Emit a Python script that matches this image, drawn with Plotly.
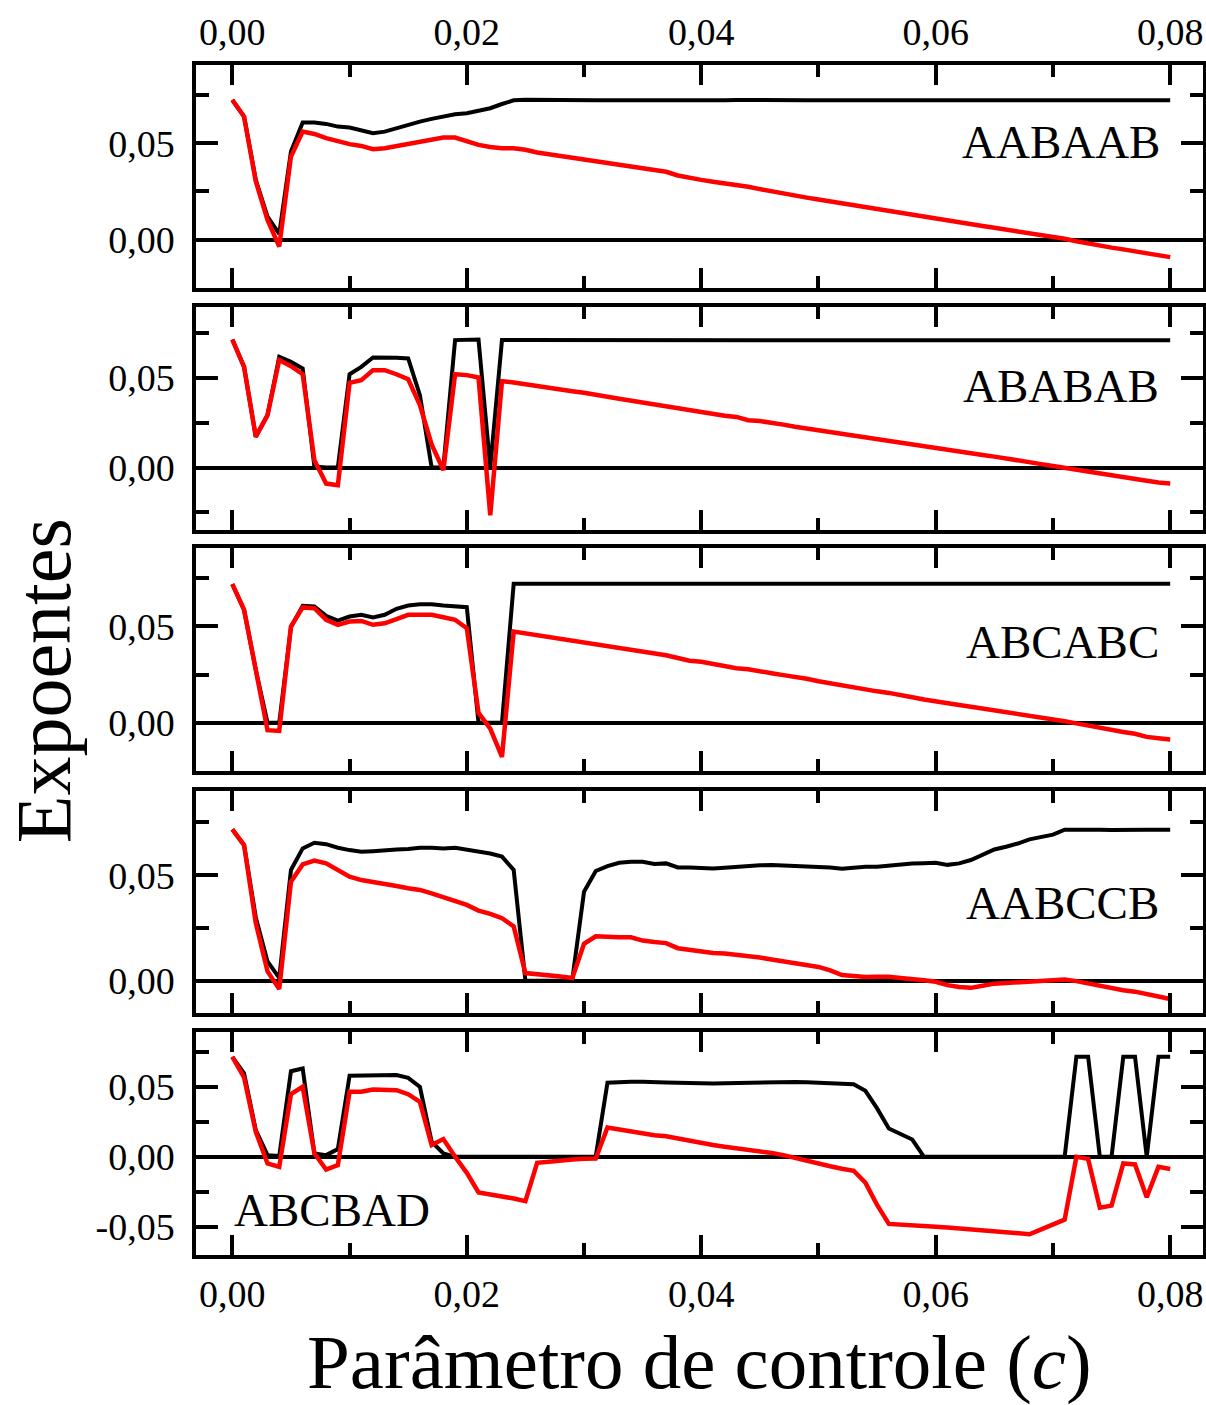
import plotly.graph_objects as go

# ---------------- data ----------------
C = [round(0.001 * i, 3) for i in range(81)]

labels = ["AABAAB", "ABABAB", "ABCABC", "AABCCB", "ABCBAD"]

aabaab_black = [
    0.0724, 0.0638, 0.0310, 0.0120, 0.0030, 0.0457, 0.0607, 0.0607, 0.0600, 0.0586,
    0.0581, 0.0569, 0.0552, 0.0560, 0.0578, 0.0595, 0.0612, 0.0626, 0.0638, 0.0650,
    0.0655, 0.0667, 0.0681, 0.0703, 0.0722, 0.0725, 0.0724, 0.0723, 0.0723, 0.0724,
    0.0723, 0.0722, 0.0723, 0.0722, 0.0723, 0.0722, 0.0721, 0.0722, 0.0723, 0.0722,
    0.0721, 0.0722, 0.0723, 0.0724, 0.0723, 0.0722, 0.0721, 0.0722, 0.0723, 0.0722,
    0.0723, 0.0722, 0.0721, 0.0722, 0.0722, 0.0721, 0.0722, 0.0723, 0.0722, 0.0722,
    0.0722, 0.0721, 0.0722, 0.0722, 0.0722, 0.0723, 0.0722, 0.0722, 0.0721, 0.0722,
    0.0722, 0.0722, 0.0722, 0.0722, 0.0722, 0.0721, 0.0722, 0.0722, 0.0722, 0.0722,
    0.0722,
]
aabaab_red = [
    0.0724, 0.0638, 0.0302, 0.0103, -0.0035, 0.0431, 0.0560, 0.0548, 0.0526, 0.0509,
    0.0495, 0.0486, 0.0469, 0.0474, 0.0486, 0.0497, 0.0509, 0.0517, 0.0529, 0.0529,
    0.0509, 0.0491, 0.0480, 0.0474, 0.0474, 0.0466, 0.0452, 0.0443, 0.0434, 0.0428,
    0.0417, 0.0407, 0.0402, 0.0391, 0.0384, 0.0374, 0.0365, 0.0352, 0.0333, 0.0320,
    0.0310, 0.0300, 0.0293, 0.0285, 0.0274, 0.0262, 0.0250, 0.0238, 0.0228, 0.0218,
    0.0208, 0.0198, 0.0189, 0.0179, 0.0168, 0.0158, 0.0147, 0.0139, 0.0128, 0.0116,
    0.0108, 0.0099, 0.0089, 0.0080, 0.0071, 0.0062, 0.0053, 0.0043, 0.0036, 0.0025,
    0.0015, 0.0005, -0.0008, -0.0020, -0.0030, -0.0041, -0.0050, -0.0060, -0.0069, -0.0079,
    -0.0090,
]

ababab_black = [
    0.0716, 0.0563, 0.0172, 0.0293, 0.0619, 0.0591, 0.0554, 0.0005, 0.0000, 0.0000,
    0.0522, 0.0563, 0.0616, 0.0616, 0.0614, 0.0610, 0.0405, 0.0000, 0.0000, 0.0713,
    0.0716, 0.0716, 0.0000, 0.0713, 0.0713, 0.0713, 0.0713, 0.0714, 0.0713, 0.0713,
    0.0714, 0.0713, 0.0712, 0.0713, 0.0713, 0.0712, 0.0713, 0.0713, 0.0712, 0.0711,
    0.0712, 0.0713, 0.0712, 0.0711, 0.0712, 0.0713, 0.0712, 0.0712, 0.0713, 0.0712,
    0.0712, 0.0712, 0.0712, 0.0712, 0.0712, 0.0713, 0.0714, 0.0713, 0.0712, 0.0712,
    0.0712, 0.0712, 0.0712, 0.0712, 0.0712, 0.0712, 0.0712, 0.0712, 0.0712, 0.0712,
    0.0712, 0.0712, 0.0712, 0.0712, 0.0712, 0.0712, 0.0712, 0.0712, 0.0711, 0.0711,
    0.0712,
]
ababab_red = [
    0.0716, 0.0563, 0.0172, 0.0293, 0.0601, 0.0567, 0.0522, 0.0041, -0.0090, -0.0099,
    0.0474, 0.0489, 0.0545, 0.0545, 0.0522, 0.0494, 0.0349, 0.0129, -0.0015, 0.0522,
    0.0517, 0.0504, -0.0267, 0.0483, 0.0476, 0.0465, 0.0455, 0.0446, 0.0436, 0.0427,
    0.0418, 0.0404, 0.0396, 0.0385, 0.0374, 0.0366, 0.0352, 0.0340, 0.0330, 0.0320,
    0.0306, 0.0298, 0.0290, 0.0283, 0.0265, 0.0260, 0.0252, 0.0240, 0.0228, 0.0218,
    0.0206, 0.0197, 0.0186, 0.0175, 0.0166, 0.0156, 0.0148, 0.0137, 0.0126, 0.0116,
    0.0105, 0.0094, 0.0087, 0.0079, 0.0070, 0.0061, 0.0052, 0.0040, 0.0030, 0.0019,
    0.0008, -0.0003, -0.0012, -0.0023, -0.0033, -0.0043, -0.0053, -0.0064, -0.0074, -0.0084,
    -0.0089,
]

abcabc_black = [
    0.0719, 0.0586, 0.0274, 0.0000, 0.0000, 0.0496, 0.0606, 0.0603, 0.0554, 0.0530,
    0.0551, 0.0560, 0.0546, 0.0560, 0.0591, 0.0608, 0.0615, 0.0615, 0.0608, 0.0603,
    0.0599, 0.0000, 0.0000, 0.0000, 0.0721, 0.0721, 0.0721, 0.0720, 0.0720, 0.0721,
    0.0721, 0.0720, 0.0721, 0.0722, 0.0721, 0.0720, 0.0721, 0.0721, 0.0721, 0.0721,
    0.0721, 0.0721, 0.0721, 0.0720, 0.0721, 0.0721, 0.0721, 0.0721, 0.0721, 0.0721,
    0.0721, 0.0721, 0.0721, 0.0721, 0.0721, 0.0721, 0.0721, 0.0721, 0.0721, 0.0722,
    0.0720, 0.0721, 0.0721, 0.0721, 0.0721, 0.0721, 0.0721, 0.0721, 0.0721, 0.0721,
    0.0721, 0.0721, 0.0721, 0.0721, 0.0721, 0.0721, 0.0721, 0.0720, 0.0720, 0.0721,
    0.0721,
]
abcabc_red = [
    0.0719, 0.0586, 0.0274, -0.0038, -0.0042, 0.0499, 0.0598, 0.0594, 0.0534, 0.0508,
    0.0525, 0.0528, 0.0508, 0.0516, 0.0537, 0.0560, 0.0560, 0.0560, 0.0547, 0.0534,
    0.0490, 0.0052, -0.0030, -0.0177, 0.0473, 0.0464, 0.0452, 0.0444, 0.0435, 0.0426,
    0.0414, 0.0408, 0.0398, 0.0390, 0.0378, 0.0372, 0.0360, 0.0350, 0.0336, 0.0322,
    0.0316, 0.0305, 0.0294, 0.0283, 0.0278, 0.0270, 0.0257, 0.0247, 0.0240, 0.0228,
    0.0215, 0.0204, 0.0195, 0.0183, 0.0173, 0.0163, 0.0155, 0.0146, 0.0132, 0.0121,
    0.0113, 0.0101, 0.0092, 0.0083, 0.0074, 0.0066, 0.0056, 0.0046, 0.0035, 0.0027,
    0.0018, 0.0008, -0.0003, -0.0015, -0.0028, -0.0040, -0.0048, -0.0057, -0.0073, -0.0080,
    -0.0087,
]

aabccb_black = [
    0.0717, 0.0643, 0.0300, 0.0091, 0.0013, 0.0525, 0.0627, 0.0654, 0.0647, 0.0630,
    0.0619, 0.0611, 0.0614, 0.0619, 0.0622, 0.0624, 0.0630, 0.0630, 0.0627, 0.0630,
    0.0622, 0.0611, 0.0603, 0.0588, 0.0525, 0.0000, 0.0000, 0.0000, 0.0000, 0.0005,
    0.0422, 0.0520, 0.0543, 0.0559, 0.0564, 0.0564, 0.0553, 0.0556, 0.0537, 0.0536,
    0.0533, 0.0532, 0.0535, 0.0540, 0.0543, 0.0547, 0.0548, 0.0546, 0.0545, 0.0544,
    0.0540, 0.0537, 0.0531, 0.0537, 0.0540, 0.0540, 0.0546, 0.0552, 0.0555, 0.0557,
    0.0559, 0.0549, 0.0556, 0.0572, 0.0598, 0.0622, 0.0635, 0.0650, 0.0670, 0.0680,
    0.0692, 0.0716, 0.0717, 0.0716, 0.0715, 0.0714, 0.0716, 0.0718, 0.0716, 0.0715,
    0.0716,
]
aabccb_red = [
    0.0717, 0.0643, 0.0273, 0.0044, -0.0039, 0.0469, 0.0551, 0.0569, 0.0556, 0.0525,
    0.0493, 0.0477, 0.0469, 0.0458, 0.0449, 0.0438, 0.0430, 0.0414, 0.0395, 0.0380,
    0.0359, 0.0332, 0.0317, 0.0296, 0.0257, 0.0036, 0.0032, 0.0028, 0.0020, 0.0013,
    0.0175, 0.0210, 0.0206, 0.0206, 0.0206, 0.0190, 0.0183, 0.0178, 0.0154, 0.0146,
    0.0140, 0.0131, 0.0129, 0.0124, 0.0118, 0.0110, 0.0100, 0.0090, 0.0083, 0.0074,
    0.0065, 0.0049, 0.0027, 0.0022, 0.0017, 0.0019, 0.0019, 0.0013, 0.0009, 0.0002,
    -0.0005, -0.0021, -0.0030, -0.0034, -0.0024, -0.0014, -0.0011, -0.0008, -0.0007, -0.0005,
    0.0002, 0.0005, -0.0002, -0.0013, -0.0026, -0.0036, -0.0045, -0.0052, -0.0066, -0.0075,
    -0.0087,
]

abcbad_black = [
    0.0717, 0.0598, 0.0191, 0.0012, 0.0005, 0.0614, 0.0633, 0.0024, 0.0012, 0.0055,
    0.0581, 0.0581, 0.0581, 0.0581, 0.0586, 0.0566, 0.0502, 0.0108, 0.0024, 0.0000,
    0.0000, 0.0000, 0.0000, 0.0000, 0.0000, 0.0000, 0.0000, 0.0000, 0.0000, 0.0000,
    0.0000, 0.0003, 0.0531, 0.0538, 0.0538, 0.0538, 0.0533, 0.0533, 0.0531, 0.0527,
    0.0524, 0.0526, 0.0528, 0.0530, 0.0534, 0.0538, 0.0537, 0.0536, 0.0537, 0.0535,
    0.0532, 0.0530, 0.0527, 0.0521, 0.0473, 0.0347, 0.0203, 0.0165, 0.0124, 0.0000,
    0.0000, 0.0000, 0.0000, 0.0000, 0.0000, 0.0000, 0.0000, 0.0000, 0.0000, 0.0000,
    0.0000, 0.0000, 0.0717, 0.0717, 0.0000, 0.0000, 0.0717, 0.0717, 0.0000, 0.0717,
    0.0717,
]
abcbad_red = [
    0.0717, 0.0569, 0.0179, -0.0048, -0.0072, 0.0449, 0.0502, 0.0024, -0.0091, -0.0060,
    0.0466, 0.0466, 0.0483, 0.0478, 0.0478, 0.0449, 0.0394, 0.0084, 0.0127, 0.0000,
    -0.0115, -0.0256, -0.0268, -0.0282, -0.0299, -0.0318, -0.0043, -0.0036, -0.0024, -0.0019,
    -0.0014, -0.0012, 0.0210, 0.0196, 0.0184, 0.0172, 0.0155, 0.0148, 0.0131, 0.0118,
    0.0102, 0.0085, 0.0072, 0.0062, 0.0052, 0.0042, 0.0028, 0.0012, -0.0008, -0.0035,
    -0.0048, -0.0068, -0.0085, -0.0100, -0.0185, -0.0345, -0.0481, -0.0488, -0.0490, -0.0500,
    -0.0502, -0.0506, -0.0512, -0.0518, -0.0525, -0.0530, -0.0538, -0.0545, -0.0555, -0.0520,
    -0.0485, -0.0450, 0.0000, -0.0015, -0.0365, -0.0350, -0.0048, -0.0055, -0.0290, -0.0072,
    -0.0088,
]

black_series = [aabaab_black, ababab_black, abcabc_black, aabccb_black, abcbad_black]
red_series = [aabaab_red, ababab_red, abcabc_red, aabccb_red, abcbad_red]

x_tickvals = [0.0, 0.02, 0.04, 0.06, 0.08]
x_ticktext = ["0,00", "0,02", "0,04", "0,06", "0,08"]
y_tickvals = [[0.0, 0.05], [0.0, 0.05], [0.0, 0.05], [0.0, 0.05], [-0.05, 0.0, 0.05]]
y_ticktext = [["0,00", "0,05"], ["0,00", "0,05"], ["0,00", "0,05"], ["0,00", "0,05"],
              ["-0,05", "0,00", "0,05"]]

# ---------------- styling / layout ----------------
FONT = "Liberation Serif, Times New Roman, serif"
y_ranges = [[-0.025, 0.0905], [-0.035, 0.0898], [-0.025, 0.0906], [-0.0153, 0.0899], [-0.0704, 0.0895]]
domains = [[0.8126, 1.0], [0.6092, 0.7966], [0.4067, 0.5941], [0.2034, 0.3899], [0.0, 0.1874]]
label_pos = [  # (x, y, xanchor)
    (0.0793, 0.0507, "right"),
    (0.0792, 0.0457, "right"),
    (0.0792, 0.0420, "right"),
    (0.0792, 0.0369, "right"),
    (0.0000, -0.0382, "left"),
]

fig = go.Figure()
for i in range(5):
    xa = "x" if i == 0 else f"x{i+1}"
    ya = "y" if i == 0 else f"y{i+1}"
    fig.add_trace(go.Scatter(x=C, y=black_series[i], mode="lines",
                             line=dict(color="black", width=4),
                             xaxis=xa, yaxis=ya, showlegend=False))
    fig.add_trace(go.Scatter(x=C, y=red_series[i], mode="lines",
                             line=dict(color="#ff0000", width=4.5),
                             xaxis=xa, yaxis=ya, showlegend=False))

layout = dict(
    width=1206, height=1405,
    margin=dict(l=196, r=3, t=65, b=150, autoexpand=False),
    paper_bgcolor="white", plot_bgcolor="white",
    font=dict(family=FONT, color="black", size=38),
    showlegend=False,
)

for i in range(5):
    xkey = "xaxis" if i == 0 else f"xaxis{i+1}"
    ykey = "yaxis" if i == 0 else f"yaxis{i+1}"
    yname = "y" if i == 0 else f"y{i+1}"
    xname = "x" if i == 0 else f"x{i+1}"
    layout[xkey] = dict(
        anchor=yname, domain=[0, 1], range=[-0.0031, 0.0828],
        tickmode="array", tickvals=x_tickvals, ticktext=x_ticktext,
        showticklabels=(i == 0 or i == 4),
        side="top" if i == 0 else "bottom",
        ticks="inside", ticklen=20, tickwidth=3.5, tickcolor="black",
        minor=dict(dtick=0.01, tick0=0, ticks="inside", ticklen=12, tickwidth=3.5, tickcolor="black"),
        showline=True, linecolor="black", linewidth=3.5, mirror="ticks",
        showgrid=False, zeroline=False, automargin=False,
        tickfont=dict(family=FONT, size=38, color="black"),
        ticklabelstandoff=1 if i == 0 else 3,
    )
    if i > 0:
        layout[xkey]["matches"] = "x"
    layout[ykey] = dict(
        anchor=xname, domain=domains[i], range=y_ranges[i],
        tickmode="array", tickvals=y_tickvals[i], ticktext=y_ticktext[i],
        ticks="inside", ticklen=22, tickwidth=3.5, tickcolor="black",
        minor=dict(dtick=0.025, tick0=0, ticks="inside", ticklen=13, tickwidth=3.5, tickcolor="black"),
        showline=True, linecolor="black", linewidth=3.5, mirror="ticks",
        showgrid=False, zeroline=True, zerolinecolor="black", zerolinewidth=3.5,
        automargin=False,
        tickfont=dict(family=FONT, size=38, color="black"),
        ticklabelstandoff=10,
    )

annotations = []
for i in range(5):
    xr = "x" if i == 0 else f"x{i+1}"
    yr = "y" if i == 0 else f"y{i+1}"
    xv, yv, anc = label_pos[i]
    annotations.append(dict(text=labels[i], x=xv, y=yv, xref=xr, yref=yr,
                            xanchor=anc, yanchor="middle", showarrow=False,
                            font=dict(family=FONT, size=47, color="black")))
annotations.append(dict(text="Parâmetro de controle (<i>c</i>)", x=0.5, y=-0.0898,
                        xref="paper", yref="paper", xanchor="center", yanchor="middle",
                        showarrow=False, font=dict(family=FONT, size=77, color="black")))
annotations.append(dict(text="Expoentes", x=-0.152, y=0.483, xref="paper", yref="paper",
                        xanchor="center", yanchor="middle", textangle=-90, showarrow=False,
                        font=dict(family=FONT, size=78, color="black")))
layout["annotations"] = annotations

fig.update_layout(**layout)
fig.write_html(
    "out.html",
    config={"displayModeBar": False},
    post_script="document.body.style.margin='0';document.body.style.padding='0';"
                "document.body.style.overflow='hidden';",
)
